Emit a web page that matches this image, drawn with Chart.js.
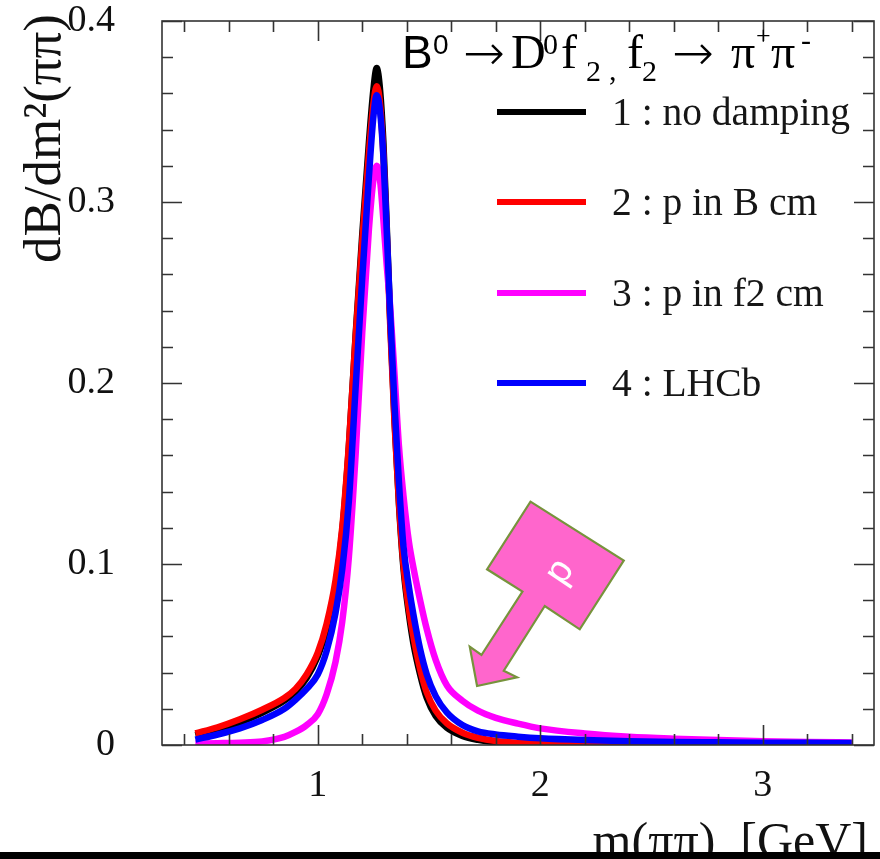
<!DOCTYPE html>
<html>
<head>
<meta charset="utf-8">
<script src="https://cdn.jsdelivr.net/npm/chart.js@4.4.1/dist/chart.umd.min.js"></script>
<style>
  html, body { margin: 0; padding: 0; background: #ffffff; }
  #wrap { width: 880px; height: 859px; position: relative; }
</style>
</head>
<body>
<div id="wrap"><canvas id="c" width="880" height="859"></canvas></div>
<script>
// pi-pi invariant mass, GeV
const massGeV = [0.45, 0.55, 0.65, 0.75, 0.85, 0.90, 0.95, 1.00, 1.04, 1.08, 1.11, 1.14, 1.17, 1.20, 1.23, 1.25, 1.265,
  1.28, 1.295, 1.31, 1.325, 1.345, 1.365, 1.385, 1.41, 1.43, 1.46, 1.49, 1.53, 1.58, 1.65, 1.72, 1.80, 1.90, 2.00,
  2.20, 2.40, 2.60, 2.80, 3.00, 3.20, 3.40];

// dB/dm^2 for each damping model
const noDamping = [0.0055, 0.0085, 0.0125, 0.0178, 0.0245, 0.0295, 0.037, 0.049, 0.064, 0.088, 0.118, 0.165, 0.226, 0.282, 0.333, 0.362, 0.374,
  0.362, 0.333, 0.287, 0.237, 0.180, 0.133, 0.098, 0.072, 0.056, 0.039, 0.026, 0.016, 0.0095, 0.005, 0.0028, 0.0015, 0.0008, 0.0005,
  0.0003, 0.0002, 0.0002, 0.0002, 0.0002, 0.0002, 0.0002];
const pInBcm = [0.0064, 0.0098, 0.0142, 0.0195, 0.026, 0.031, 0.039, 0.051, 0.067, 0.091, 0.120, 0.166, 0.225, 0.278, 0.327, 0.354, 0.364,
  0.354, 0.326, 0.282, 0.234, 0.178, 0.134, 0.100, 0.075, 0.060, 0.042, 0.029, 0.019, 0.012, 0.0068, 0.004, 0.0022, 0.0012, 0.0007,
  0.0004, 0.0003, 0.0003, 0.0003, 0.0003, 0.0003, 0.0003];
const pInF2cm = [0.0008, 0.0010, 0.0013, 0.0020, 0.0045, 0.0072, 0.011, 0.017, 0.028, 0.046, 0.068, 0.104, 0.160, 0.228, 0.285, 0.312, 0.320,
  0.312, 0.290, 0.265, 0.243, 0.205, 0.165, 0.138, 0.112, 0.098, 0.080, 0.064, 0.047, 0.033, 0.0245, 0.019, 0.015, 0.0118, 0.0092,
  0.0064, 0.0046, 0.0035, 0.0027, 0.0021, 0.0017, 0.0014];
const lhcb = [0.0030, 0.0058, 0.0092, 0.0138, 0.020, 0.025, 0.031, 0.039, 0.052, 0.073, 0.097, 0.135, 0.197, 0.258, 0.314, 0.347, 0.359,
  0.350, 0.325, 0.284, 0.240, 0.188, 0.145, 0.110, 0.087, 0.072, 0.053, 0.039, 0.027, 0.018, 0.011, 0.0075, 0.0058, 0.0046, 0.0037,
  0.0027, 0.0021, 0.0017, 0.0015, 0.0013, 0.0012, 0.0011];

const seriesLabels = ['1 : no damping', '2 : p in B cm', '3 : p in f2 cm', '4 : LHCb'];
const seriesColors = ['#000000', '#ff0000', '#ff00ff', '#0000ff'];
const xTickLabels = [1, 2, 3];
const yTickLabels = [0, 0.1, 0.2, 0.3, 0.4];

const SERIF = "'Liberation Serif', 'Times New Roman', serif";
const SANS = "'Liberation Sans', Arial, sans-serif";
const ARROW = "'DejaVu Sans', sans-serif";

function toPoints(values) {
  return massGeV.map((m, i) => ({ x: m, y: values[i] }));
}

// ROOT-style frame with inward ticks on all four sides
const framePlugin = {
  id: 'frame',
  afterDatasetsDraw(chart) {
    const { ctx, chartArea: a, scales: { x, y } } = chart;
    ctx.save();
    ctx.strokeStyle = '#333333';
    ctx.lineWidth = 1.6;
    ctx.strokeRect(a.left, a.top, a.right - a.left, a.bottom - a.top);
    ctx.beginPath();
    for (let k = 2; k <= 17; k++) {
      const v = k * 0.2;
      const px = Math.round(x.getPixelForValue(v)) + 0.5;
      const major = Math.abs(v - Math.round(v)) < 1e-6;
      const len = major ? 20 : 11;
      ctx.moveTo(px, a.bottom); ctx.lineTo(px, a.bottom - len);
      ctx.moveTo(px, a.top); ctx.lineTo(px, a.top + len);
    }
    for (let k = 0; k <= 20; k++) {
      const v = k * 0.02;
      const py = Math.round(y.getPixelForValue(v)) + 0.5;
      const major = k % 5 === 0;
      const len = major ? 20 : 11;
      ctx.moveTo(a.left, py); ctx.lineTo(a.left + len, py);
      ctx.moveTo(a.right, py); ctx.lineTo(a.right - len, py);
    }
    ctx.stroke();
    ctx.restore();
  },
  afterDraw(chart) {
    const { ctx, scales: { x, y } } = chart;
    ctx.save();
    ctx.fillStyle = '#111111';

    // axis titles
    ctx.save();
    ctx.translate(60, 263);
    ctx.rotate(-Math.PI / 2);
    ctx.font = '53px ' + SERIF;
    ctx.textAlign = 'left';
    ctx.textBaseline = 'alphabetic';
    ctx.fillText('dB/dm\u00B2(\u03C0\u03C0)', 0, 0);
    ctx.restore();

    ctx.font = '50px ' + SERIF;
    ctx.textAlign = 'right';
    ctx.textBaseline = 'alphabetic';
    ctx.fillText('m(\u03C0\u03C0)  [GeV]', 868, 857);

    // decay title
    const pieces = [
      ['B', SANS, 46, 402, 68, ''],
      ['0', SANS, 28, 433, 54, ''],
      ['\u2192', ARROW, 50, 463, 70, '200 '],
      ['D', SERIF, 48, 511, 68, ''],
      ['0', SERIF, 30, 543, 54, ''],
      ['f', SERIF, 48, 561, 68, ''],
      ['2', SERIF, 30, 586, 81, ''],
      [',', SERIF, 30, 609, 80, ''],
      ['f', SERIF, 48, 627, 68, ''],
      ['2', SERIF, 30, 642, 81, ''],
      ['\u2192', ARROW, 50, 672, 70, '200 '],
      ['\u03C0', SERIF, 48, 731, 68, ''],
      ['+', SERIF, 26, 756, 44, ''],
      ['\u03C0', SERIF, 48, 771, 68, ''],
      ['-', SERIF, 30, 801, 50, '']
    ];
    ctx.fillStyle = '#000000';
    ctx.textAlign = 'left';
    pieces.forEach(([t, fam, size, px, py, weight]) => {
      ctx.font = weight + size + 'px ' + fam;
      ctx.fillText(t, px, py);
    });

    // legend
    const legendY = [112, 202, 293, 383];
    chart.data.datasets.forEach((ds, i) => {
      const ly = legendY[i];
      ctx.strokeStyle = ds.borderColor;
      ctx.lineWidth = 6;
      ctx.beginPath();
      ctx.moveTo(497, ly); ctx.lineTo(586, ly);
      ctx.stroke();
      ctx.fillStyle = '#161616';
      ctx.font = '39.5px ' + SERIF;
      ctx.fillText(ds.label, 612, ly + 13);
    });

    // "p" pointer arrow aimed at the f2-cm tail
    const tipX = x.getPixelForValue(1.716);
    const tipY = y.getPixelForValue(0.0326);
    const shape = [[53.4, -184.3], [146.7, -125.3], [102.7, -56.7], [67.7, -80], [26.7, -15.3], [40, -8.7], [0, 0],
      [-7.3, -39.3], [4.4, -31], [45.4, -94.3], [10, -116.7]];
    ctx.beginPath();
    shape.forEach(([dx, dy], k) => {
      if (k === 0) ctx.moveTo(tipX + dx, tipY + dy); else ctx.lineTo(tipX + dx, tipY + dy);
    });
    ctx.closePath();
    ctx.fillStyle = '#ff66cc';
    ctx.fill();
    ctx.strokeStyle = '#77933c';
    ctx.lineWidth = 2.2;
    ctx.lineJoin = 'miter';
    ctx.stroke();
    ctx.save();
    ctx.translate(tipX + 83, tipY - 114);
    ctx.rotate(-56 * Math.PI / 180);
    ctx.fillStyle = '#ffffff';
    ctx.font = '38px ' + SANS;
    ctx.textAlign = 'center';
    ctx.textBaseline = 'middle';
    ctx.fillText('p', 0, 0);
    ctx.restore();

    // bottom strip
    ctx.fillStyle = '#000000';
    ctx.fillRect(0, 852, 880, 7);
    ctx.restore();
  }
};

const datasets = [noDamping, pInBcm, pInF2cm, lhcb].map((vals, i) => ({
  label: seriesLabels[i],
  data: toPoints(vals),
  borderColor: seriesColors[i],
  backgroundColor: seriesColors[i],
  borderWidth: 6.5,
  pointRadius: 0,
  fill: false,
  cubicInterpolationMode: 'monotone',
  order: 4 - i
}));

new Chart(document.getElementById('c'), {
  type: 'line',
  data: { datasets },
  options: {
    responsive: false,
    devicePixelRatio: 1,
    animation: false,
    layout: { padding: { top: 21, right: 6, bottom: 0, left: 0 } },
    plugins: { legend: { display: false }, tooltip: { enabled: false } },
    scales: {
      x: {
        type: 'linear',
        min: 0.3,
        max: 3.5,
        afterBuildTicks(scale) { scale.ticks = xTickLabels.map(v => ({ value: v })); },
        afterFit(scale) { scale.height = 114; scale.paddingLeft = 0; scale.paddingRight = 0; },
        grid: { display: false, drawTicks: false },
        border: { display: false },
        ticks: {
          padding: 18,
          maxRotation: 0,
          color: '#111111',
          font: { family: SERIF, size: 38 },
          callback: v => String(v)
        }
      },
      y: {
        type: 'linear',
        min: 0,
        max: 0.4,
        afterBuildTicks(scale) { scale.ticks = yTickLabels.map(v => ({ value: v })); },
        afterFit(scale) { scale.width = 162; scale.paddingTop = 0; scale.paddingBottom = 0; },
        grid: { display: false, drawTicks: false },
        border: { display: false },
        ticks: {
          padding: 47,
          color: '#111111',
          font: { family: SERIF, size: 38 },
          callback: v => String(Math.round(v * 10) / 10)
        }
      }
    }
  },
  plugins: [framePlugin]
});
</script>
</body>
</html>
